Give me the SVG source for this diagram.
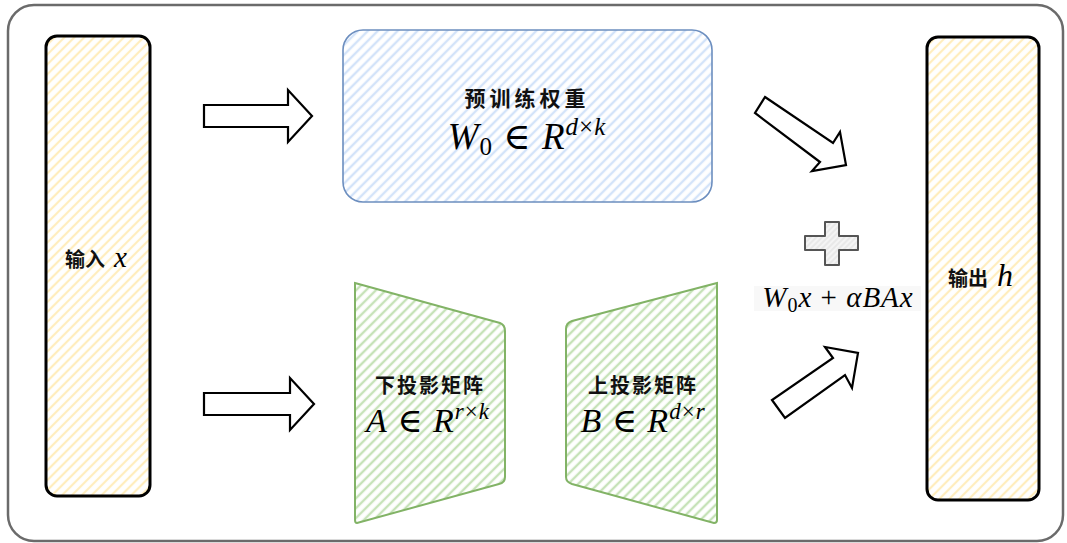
<svg xmlns="http://www.w3.org/2000/svg" width="1067" height="543" viewBox="0 0 1067 543">
<defs>
<pattern id="hY" width="7" height="7" patternUnits="userSpaceOnUse" patternTransform="rotate(45)"><rect width="7" height="7" fill="#ffffff"/><line x1="2" y1="0" x2="2" y2="7" stroke="#ffedbd" stroke-width="2.2"/></pattern>
<pattern id="hB" width="7" height="7" patternUnits="userSpaceOnUse" patternTransform="rotate(45)"><rect width="7" height="7" fill="#ffffff"/><line x1="2" y1="0" x2="2" y2="7" stroke="#d3e3f9" stroke-width="2.4"/></pattern>
<pattern id="hG" width="7" height="7" patternUnits="userSpaceOnUse" patternTransform="rotate(45)"><rect width="7" height="7" fill="#ffffff"/><line x1="2" y1="0" x2="2" y2="7" stroke="#c6e2b8" stroke-width="2.4"/></pattern>
<pattern id="hP" width="4" height="4" patternUnits="userSpaceOnUse" patternTransform="rotate(45)"><rect width="4" height="4" fill="#f4f4f4"/><line x1="1" y1="0" x2="1" y2="4" stroke="#dddddd" stroke-width="1"/></pattern>
<style>
.cn{font-family:"Noto Sans CJK SC","Noto Sans",sans-serif;font-weight:bold;fill:#111}
.m{font-family:"Liberation Serif","DejaVu Serif",serif;fill:#000}
.i{font-style:italic}
.arr{fill:#fff;stroke:#000;stroke-width:2.2;stroke-linejoin:miter}
</style>
</defs>
<rect x="8" y="5" width="1055" height="536" rx="26" fill="#fff" stroke="#6b6b6b" stroke-width="2.5"/>

<g id="input">
<rect x="46" y="36" width="104" height="460" rx="11" fill="url(#hY)" stroke="#000" stroke-width="3"/>
<text x="65" y="267" class="cn" font-size="20">输入<tspan class="m i" font-weight="normal" font-size="29" dx="9">x</tspan></text>
</g>

<g id="pretrained">
<rect x="343" y="30" width="369" height="172" rx="20" fill="url(#hB)" stroke="#6c8ebf" stroke-width="1.6"/>
<text x="527" y="106" class="cn" font-size="21" letter-spacing="4" text-anchor="middle">预训练权重</text>
<text x="527" y="149" class="m" font-size="37" letter-spacing="1" text-anchor="middle"><tspan class="i">W</tspan><tspan font-size="25" dy="6">0</tspan><tspan dy="-6"> ∈ </tspan><tspan class="i">R</tspan><tspan class="i" font-size="25" dy="-14">d</tspan><tspan font-size="25">×</tspan><tspan class="i" font-size="25">k</tspan></text>
</g>

<g id="downA">
<path d="M355,283 L500,323 Q505,325 505,331 L505,477 Q505,483 499,484 L357,523 Q355,523 355,520 Z" fill="url(#hG)" stroke="#82b366" stroke-width="2"/>
<text x="430" y="393" class="cn" font-size="20" letter-spacing="2" text-anchor="middle">下投影矩阵</text>
<text x="428" y="432" class="m" font-size="34" letter-spacing="1" text-anchor="middle"><tspan class="i">A</tspan><tspan> ∈ </tspan><tspan class="i">R</tspan><tspan class="i" font-size="23" dy="-13">r</tspan><tspan font-size="23">×</tspan><tspan class="i" font-size="23">k</tspan></text>
</g>

<g id="upB">
<path d="M717,283 L572,321 Q566,323 566,329 L566,477 Q566,482 572,484 L714,523 Q717,523 717,520 Z" fill="url(#hG)" stroke="#82b366" stroke-width="2"/>
<text x="643" y="393" class="cn" font-size="20" letter-spacing="2" text-anchor="middle">上投影矩阵</text>
<text x="643" y="432" class="m" font-size="34" letter-spacing="1" text-anchor="middle"><tspan class="i">B</tspan><tspan> ∈ </tspan><tspan class="i">R</tspan><tspan class="i" font-size="23" dy="-13">d</tspan><tspan font-size="23">×</tspan><tspan class="i" font-size="23">r</tspan></text>
</g>

<g id="output">
<rect x="927" y="37" width="112" height="463" rx="11" fill="url(#hY)" stroke="#000" stroke-width="3"/>
<text x="948" y="286" class="cn" font-size="20">输出<tspan class="m i" font-weight="normal" font-size="32" dx="9">h</tspan></text>
</g>

<g id="plus">
<path d="M825,222 L839,222 L839,236 L858,236 L858,250 L839,250 L839,265 L825,265 L825,250 L805,250 L805,236 L825,236 Z" fill="url(#hP)" stroke="#555" stroke-width="2" stroke-linejoin="round"/>
</g>

<g id="sum">
<rect x="754" y="286" width="167" height="25" fill="#f8f8f8"/>
<text x="838" y="307" class="m" font-size="29" letter-spacing="1" text-anchor="middle"><tspan class="i">W</tspan><tspan font-size="20" dy="5">0</tspan><tspan class="i" dy="-5">x</tspan><tspan> + </tspan><tspan class="i">αBAx</tspan></text>
</g>

<g id="connectors">
<polygon class="arr" points="204,105 288,105 288,90 312,116 288,142 288,127 204,127"/>
<polygon class="arr" points="204,393 290,393 290,378 314,404 290,430 290,415 204,415"/>
<polygon class="arr" points="765,97 833,143 840,132 846,165 812,171 820,162 755,113"/>
<polygon class="arr" points="772,400 785,418 845,375 852,388 858,353 825,347 833,358"/>
</g>
</svg>
